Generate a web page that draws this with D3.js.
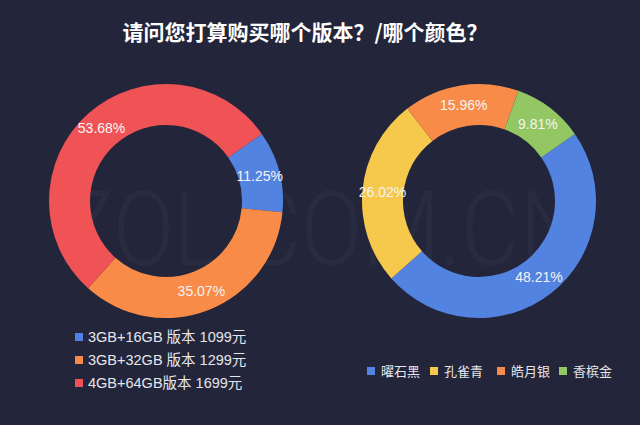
<!DOCTYPE html>
<html><head><meta charset="utf-8">
<script src="https://cdn.jsdelivr.net/npm/d3@7"></script>
<style>
html,body{margin:0;padding:0;background:#23253a;}
svg{display:block;}
</style></head>
<body><svg id="c" width="640" height="425"></svg>
<script>
const title = "请问您打算购买哪个版本？/哪个颜色？";
const versionNames = ["3GB+16GB 版本 1099元", "3GB+32GB 版本 1299元", "4GB+64GB版本 1699元"];
const versionValues = [11.25, 35.07, 53.68];
const versionColors = ["#5383e0", "#f88b48", "#f05355"];
const colorNames = ["曜石黑", "孔雀青", "皓月银", "香槟金"];
const colorValues = [48.21, 26.02, 15.96, 9.81];
const colorColors = ["#5383e0", "#f6c84b", "#f88b48", "#93c764"];

const svg = d3.select("#c");
const W = 640, H = 425;
svg.append("rect").attr("width", W).attr("height", H).attr("fill", "#23253a");

// watermark
svg.append("text").attr("x", 322).attr("y", 265).attr("text-anchor", "middle")
  .attr("font-family", "Roboto, 'Liberation Sans', sans-serif").attr("font-weight", 300)
  .attr("font-size", 104).attr("fill", "#ffffff").attr("fill-opacity", 0.03)
  .attr("textLength", 523).attr("lengthAdjust", "spacingAndGlyphs")
  .text("ZOL.COM.CN");

svg.append("text").attr("x", 305).attr("y", 40).attr("text-anchor", "middle")
  .attr("font-family", "'Noto Sans CJK SC', sans-serif").attr("font-weight", 700)
  .attr("font-size", 21).attr("fill", "#ffffff").text(title);

const start = 55 * Math.PI / 180;
const pie = d3.pie().sort(null).value(d => d).startAngle(start).endAngle(start + 2 * Math.PI);
const outerR = 117, innerR = 76;
const arc = d3.arc().innerRadius(innerR).outerRadius(outerR);
const labelArc = d3.arc().innerRadius(97).outerRadius(97);

function donut(cx, cy, values, colors) {
  const g = svg.append("g").attr("transform", `translate(${cx},${cy})`);
  const arcs = pie(values);
  g.selectAll("path").data(arcs).join("path").attr("d", arc)
    .attr("fill", (d, i) => colors[i]);
  g.selectAll("text").data(arcs).join("text")
    .attr("transform", d => `translate(${labelArc.centroid(d)})`)
    .attr("text-anchor", "middle").attr("dy", "0.35em")
    .attr("font-family", "'Liberation Sans', Arial, sans-serif")
    .attr("font-size", 14).attr("fill", "#f4f4f4")
    .text(d => d.data.toFixed(2) + "%");
}
donut(166, 201, versionValues, versionColors);
donut(479, 201, colorValues, colorColors);

// left legend (vertical)
const lg = svg.append("g");
versionNames.forEach((n, i) => {
  const y = 337 + i * 23;
  lg.append("rect").attr("x", 75).attr("y", y - 4).attr("width", 8).attr("height", 8).attr("fill", versionColors[i]);
  lg.append("text").attr("x", 88).attr("y", y).attr("dy", "0.35em")
    .attr("font-family", "'Liberation Sans', 'Noto Sans CJK SC', sans-serif")
    .attr("font-size", 14.5).attr("fill", "#e6e6ea").text(n);
});

// right legend (horizontal)
const rxs = [367, 430, 497, 559];
colorNames.forEach((n, i) => {
  const y = 371;
  lg.append("rect").attr("x", rxs[i]).attr("y", y - 4).attr("width", 8).attr("height", 8).attr("fill", colorColors[i]);
  lg.append("text").attr("x", rxs[i] + 14).attr("y", y).attr("dy", "0.35em")
    .attr("font-family", "'Noto Sans CJK SC', sans-serif")
    .attr("font-size", 13).attr("fill", "#e6e6ea").text(n);
});
</script></body></html>
